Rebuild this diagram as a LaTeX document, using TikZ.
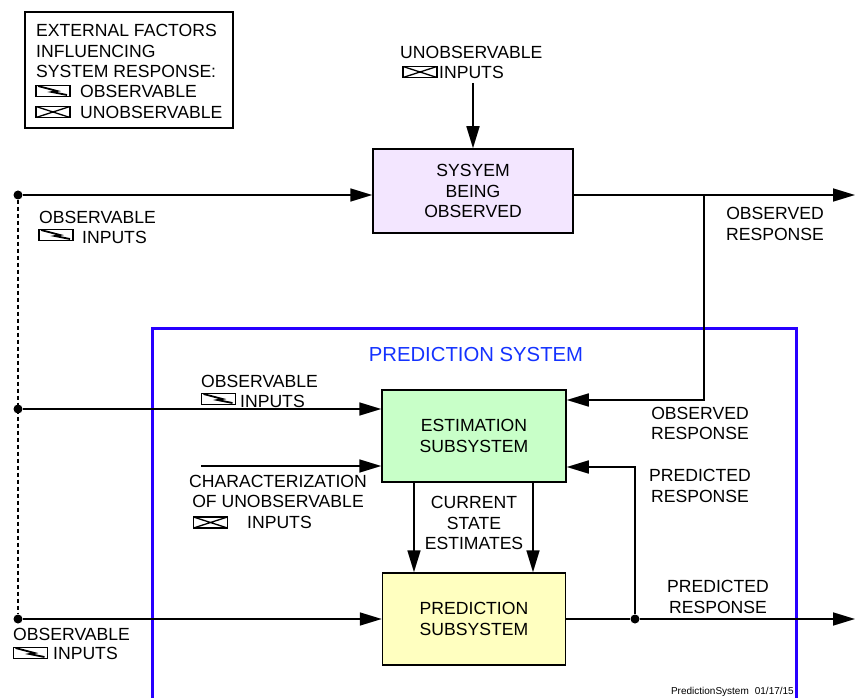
\documentclass[tikz,border=0pt]{standalone}
\usepackage{fontspec}
\setmainfont{Liberation Sans}
\usetikzlibrary{arrows.meta}
\definecolor{sysfill}{RGB}{243,230,255}
\definecolor{estfill}{RGB}{200,255,200}
\definecolor{predfill}{RGB}{255,255,192}
\definecolor{psblue}{RGB}{40,0,255}
\definecolor{pstext}{RGB}{20,50,255}
\begin{document}
\begin{tikzpicture}[x=1pt,y=-1pt,
  txt/.style={font=\fontsize{17.6}{20.6}\selectfont, inner sep=0pt, align=center},
  box/.style={draw, line width=1.5pt, inner sep=0pt, font=\fontsize{17.6}{20.6}\selectfont, align=center},
  conn/.style={line width=1.7pt},
  arr/.style={line width=1.7pt, -{Triangle[length=22pt,width=13pt]}},
  dot/.style={circle, fill, inner sep=0pt, minimum size=9pt},
  iconbase/.style={draw, line width=1.5pt, minimum width=34pt, minimum height=11pt, inner sep=0pt},
  obsicon/.style={iconbase, path picture={\draw[line width=1.8pt, line join=miter]
      ([shift={(-15pt,5pt)}]path picture bounding box.center) --
      ([shift={(4pt,0pt)}]path picture bounding box.center) --
      ([shift={(-1pt,-1pt)}]path picture bounding box.center) --
      ([shift={(14pt,-4pt)}]path picture bounding box.center);}},
  unobsicon/.style={iconbase, path picture={\draw[line width=1.3pt]
      (path picture bounding box.north west) -- (path picture bounding box.south east)
      (path picture bounding box.south west) -- (path picture bounding box.north east);}},
]
\useasboundingbox (0,0) rectangle (855,698);

% prediction system frame
\coordinate (psbl) at (152,740);
\coordinate (pstl) at (152,328);
\coordinate (pstr) at (796,328);
\coordinate (psbr) at (796,740);
\draw[psblue, line width=3pt] (psbl) -- (pstl) -- (pstr) -- (psbr);
\node[inner sep=0pt, font=\fontsize{20.3}{24}\selectfont, text=pstext] (pstitle) at (476,355) {PREDICTION SYSTEM};

% legend
\node[draw, line width=1.5pt, minimum width=208pt, minimum height=116pt, inner sep=0pt] (legend) at (129,70) {};
\node[txt, align=left, anchor=north west] (legtitle) at (36,24) {EXTERNAL FACTORS\\INFLUENCING\\SYSTEM RESPONSE:};
\node[obsicon] (legobs) at (53,91) {};
\node[txt, anchor=west] (legobstxt) at (80,91.5) {OBSERVABLE};
\node[unobsicon] (legunobs) at (53,112) {};
\node[txt, anchor=west] (legunobstxt) at (80,112) {UNOBSERVABLE};

% boxes
\node[box, fill=sysfill, minimum width=200pt, minimum height=84pt] (sys) at (473,191) {SYSYEM\\BEING\\OBSERVED};
\node[box, fill=estfill, minimum width=184pt, minimum height=92pt] (est) at (474,436) {ESTIMATION\\SUBSYSTEM};
\node[box, fill=predfill, minimum width=183pt, minimum height=92pt] (pred) at (474,619) {PREDICTION\\SUBSYSTEM};

% top unobservable inputs
\node[txt, anchor=west] (uotxt) at (400,52) {UNOBSERVABLE};
\node[unobsicon] (uoicon) at (420,72) {};
\node[txt, anchor=west] (uoinp) at (439,72) {INPUTS};
\coordinate (ui) at (473,83);
\draw[arr] (ui) -- (sys.north);

% input dots and dashed line
\node[dot] (d1) at (18,195) {};
\node[dot] (d2) at (18,409) {};
\node[dot] (d3) at (18,619) {};
\draw[conn, dash pattern=on 4pt off 3pt] (d1) -- (d3);

% top-left observable inputs
\node[txt, anchor=west] (oi1txt) at (39,217) {OBSERVABLE};
\node[obsicon] (oi1icon) at (56,235) {};
\node[txt, anchor=west] (oi1inp) at (82,237) {INPUTS};
\draw[arr] (d1) -- (d1 -| sys.west);

% observed response
\coordinate (out1) at (855,195);
\coordinate (br) at (704,195);
\draw[arr] (sys.east |- d1) -- (out1);
\draw[arr] (br) |- ([yshift=36pt]est.east);
\node[txt] (obsresp1) at (775,224) {OBSERVED\\RESPONSE};
\node[txt] (obsresp2) at (700,423.5) {OBSERVED\\RESPONSE};

% inputs to estimation
\node[txt, anchor=west] (oi2txt) at (201,381) {OBSERVABLE};
\node[obsicon] (oi2icon) at (218.5,399) {};
\node[txt, anchor=west] (oi2inp) at (240,401) {INPUTS};
\draw[arr] (d2) -- (d2 -| est.west);
\coordinate (ch) at (201,466);
\draw[arr] (ch) -- (ch -| est.west);
\node[txt] (chtxt) at (278,491.5) {CHARACTERIZATION\\OF UNOBSERVABLE};
\node[unobsicon] (chicon) at (210.5,522.5) {};
\node[txt, anchor=west] (chinp) at (247,522) {INPUTS};

% current state estimates
\draw[arr] ([xshift=-60pt]est.south) -- ([xshift=-60pt]est.south |- pred.north);
\draw[arr] ([xshift=59pt]est.south) -- ([xshift=59pt]est.south |- pred.north);
\node[txt] (cse) at (474,523) {CURRENT\\STATE\\ESTIMATES};

% prediction inputs and outputs
\node[txt, anchor=west] (oi3txt) at (13,634) {OBSERVABLE};
\node[obsicon] (oi3icon) at (30.5,653) {};
\node[txt, anchor=west] (oi3inp) at (53,653) {INPUTS};
\draw[arr] (d3) -- (d3 -| pred.west);
\node[dot] (jn) at (635,619) {};
\coordinate (out2) at (855,619);
\draw[conn] (pred.east) -- (jn);
\draw[arr] (jn) -- (out2);
\draw[arr] (jn) |- ([yshift=-31pt]est.east);
\node[txt] (predresp1) at (700,486) {PREDICTED\\RESPONSE};
\node[txt] (predresp2) at (718,597) {PREDICTED\\RESPONSE};

% footer
\node[inner sep=0pt, font=\fontsize{10}{12}\selectfont, anchor=base east] (footer) at (794,694) {PredictionSystem\hspace{0.6em}01/17/15};
\end{tikzpicture}
\end{document}
